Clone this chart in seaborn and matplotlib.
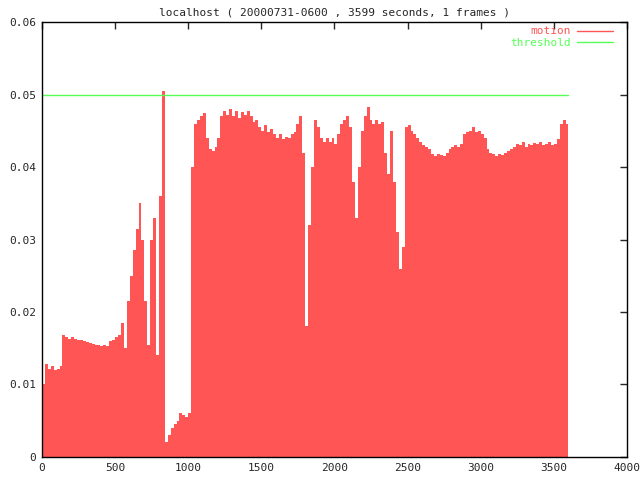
import numpy as np
import pandas as pd
import matplotlib
matplotlib.use("Agg")
import matplotlib.pyplot as plt
import seaborn as sns

# motion samples, one per 20 s bin starting at 0 s
motion = [
    0.0100, 0.0128, 0.0122, 0.0125, 0.0120, 0.0122, 0.0125, 0.0168, 0.0165, 0.0163,   # 0-180
    0.0165, 0.0163, 0.0162, 0.0161, 0.0160, 0.0158, 0.0157, 0.0156, 0.0155, 0.0154,   # 200-380
    0.0153, 0.0154, 0.0153, 0.0160, 0.0162, 0.0165, 0.0168, 0.0185, 0.0150, 0.0215,   # 400-580
    0.0250, 0.0285, 0.0315, 0.0350, 0.0300, 0.0215, 0.0155, 0.0300, 0.0330, 0.0140,   # 600-780
    0.0360, 0.0505, 0.0020, 0.0030, 0.0040, 0.0045, 0.0050, 0.0060, 0.0058, 0.0055,   # 800-980
    0.0060, 0.0400, 0.0460, 0.0465, 0.0470, 0.0475, 0.0440, 0.0425, 0.0422, 0.0428,   # 1000-1180
    0.0440, 0.0470, 0.0478, 0.0472, 0.0480, 0.0470, 0.0478, 0.0468, 0.0476, 0.0472,   # 1200-1380
    0.0478, 0.0470, 0.0462, 0.0465, 0.0455, 0.0450, 0.0458, 0.0448, 0.0452, 0.0445,   # 1400-1580
    0.0440, 0.0445, 0.0438, 0.0442, 0.0440, 0.0445, 0.0448, 0.0460, 0.0470, 0.0420,   # 1600-1780
    0.0180, 0.0320, 0.0400, 0.0465, 0.0455, 0.0440, 0.0435, 0.0440, 0.0435, 0.0440,   # 1800-1980
    0.0432, 0.0445, 0.0460, 0.0465, 0.0470, 0.0455, 0.0380, 0.0330, 0.0400, 0.0450,   # 2000-2180
    0.0470, 0.0483, 0.0465, 0.0460, 0.0465, 0.0460, 0.0462, 0.0420, 0.0390, 0.0450,   # 2200-2380
    0.0380, 0.0310, 0.0260, 0.0290, 0.0455, 0.0458, 0.0450, 0.0445, 0.0440, 0.0435,   # 2400-2580
    0.0430, 0.0428, 0.0425, 0.0418, 0.0415, 0.0418, 0.0416, 0.0415, 0.0420, 0.0425,   # 2600-2780
    0.0428, 0.0430, 0.0428, 0.0432, 0.0445, 0.0448, 0.0450, 0.0455, 0.0448, 0.0450,   # 2800-2980
    0.0445, 0.0440, 0.0425, 0.0420, 0.0418, 0.0415, 0.0418, 0.0416, 0.0420, 0.0422,   # 3000-3180
    0.0425, 0.0428, 0.0432, 0.0430, 0.0435, 0.0428, 0.0432, 0.0430, 0.0433, 0.0432,   # 3200-3380
    0.0435, 0.0430, 0.0432, 0.0435, 0.0430, 0.0432, 0.0438, 0.0460, 0.0465, 0.0460,   # 3400-3580
]
seconds = np.arange(0, 20 * len(motion), 20)
total_seconds = 3599
threshold = 0.05

title = "localhost ( 20000731-0600 , 3599 seconds, 1 frames )"
x_ticks = [0, 500, 1000, 1500, 2000, 2500, 3000, 3500, 4000]
y_ticks = [0, 0.01, 0.02, 0.03, 0.04, 0.05, 0.06]

red = "#ff5555"
green = "#55ff55"

sns.set_style("white")
plt.rcParams["font.family"] = ["DejaVu Sans Mono"]

# close the last bin at the end of the capture
df = pd.DataFrame({
    "t": list(seconds) + [total_seconds],
    "motion": motion + [motion[-1]],
})
thr_df = pd.DataFrame({"t": [0, total_seconds], "threshold": [threshold, threshold]})

fig = plt.figure(figsize=(6.4, 4.8), dpi=100)
ax = fig.add_axes([0.0656, 0.048, 0.914, 0.906])

ax.fill_between(df["t"], df["motion"], step="post", color=red, linewidth=0)
sns.lineplot(data=df, x="t", y="motion", ax=ax, color=red, linewidth=0,
             drawstyle="steps-post", label="motion")
sns.lineplot(data=thr_df, x="t", y="threshold", ax=ax, color=green, linewidth=1,
             label="threshold")

ax.set_xlim(0, 4000)
ax.set_ylim(0, 0.06)
ax.set_xticks(x_ticks)
ax.set_yticks(y_ticks)
ax.set_yticklabels(["%g" % v for v in y_ticks])
ax.set_xlabel("")
ax.set_ylabel("")
ax.tick_params(direction="in", length=5, width=1, top=True, right=True,
               labelsize=8, pad=4)
for s in ax.spines.values():
    s.set_color("black")
    s.set_linewidth(1)

ax.set_title(title, fontsize=8, pad=5)

leg = ax.legend(loc="upper right", bbox_to_anchor=(0.976, 0.99), frameon=False,
                markerfirst=False, fontsize=8, handlelength=3.2, handletextpad=0.6,
                labelspacing=0.15, borderpad=0, borderaxespad=0)
for line, text in zip(leg.get_lines(), leg.get_texts()):
    text.set_color(line.get_color())
    line.set_linewidth(1)

fig.savefig("out.png", dpi=100)
